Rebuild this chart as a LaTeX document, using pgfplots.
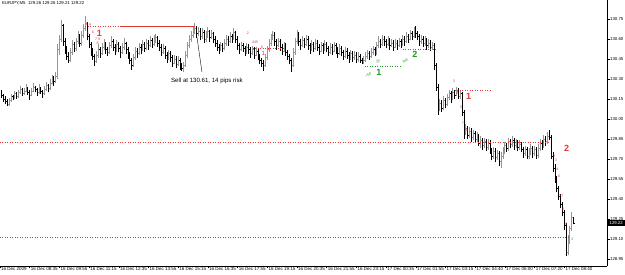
\documentclass[border=0pt]{standalone}
\usepackage{pgfplots}
\usepackage{pgfplotstable}
\pgfplotsset{compat=1.18}
\usepackage{fontspec}
\setmainfont{Liberation Sans}
\definecolor{mtred}{RGB}{225,55,55}
\definecolor{mtgreen}{RGB}{35,150,35}
\definecolor{upgray}{RGB}{150,150,150}
\newcommand\fs[1]{\fontsize{#1}{#1}\selectfont}
\pgfplotstableread{
o h l c
130.20 130.22 130.16 130.18
130.18 130.19 130.13 130.15
130.15 130.17 130.11 130.13
130.13 130.15 130.10 130.11
130.11 130.16 130.10 130.14
130.14 130.19 130.13 130.17
130.17 130.18 130.14 130.16
130.16 130.21 130.15 130.19
130.19 130.20 130.15 130.17
130.17 130.22 130.16 130.20
130.20 130.25 130.19 130.22
130.22 130.23 130.17 130.19
130.19 130.23 130.18 130.21
130.21 130.26 130.20 130.23
130.23 130.24 130.18 130.20
130.20 130.22 130.14 130.18
130.18 130.23 130.17 130.21
130.21 130.27 130.20 130.24
130.24 130.25 130.20 130.22
130.22 130.23 130.17 130.20
130.20 130.26 130.19 130.23
130.23 130.24 130.19 130.21
130.21 130.22 130.16 130.19
130.19 130.25 130.18 130.22
130.22 130.28 130.21 130.25
130.25 130.26 130.20 130.23
130.23 130.30 130.22 130.27
130.27 130.33 130.26 130.30
130.30 130.32 130.25 130.28
130.28 130.35 130.27 130.32
130.32 130.56 130.30 130.52
130.52 130.63 130.48 130.60
130.60 130.74 130.58 130.70
130.70 130.71 130.55 130.58
130.58 130.61 130.49 130.52
130.52 130.55 130.44 130.47
130.47 130.50 130.42 130.44
130.44 130.53 130.43 130.50
130.50 130.59 130.48 130.56
130.56 130.58 130.50 130.53
130.53 130.61 130.51 130.58
130.58 130.66 130.56 130.62
130.62 130.64 130.54 130.57
130.57 130.66 130.55 130.63
130.63 130.71 130.61 130.68
130.68 130.77 130.66 130.72
130.72 130.73 130.59 130.62
130.62 130.64 130.53 130.56
130.56 130.58 130.47 130.50
130.50 130.53 130.44 130.47
130.47 130.49 130.40 130.43
130.43 130.51 130.42 130.48
130.48 130.56 130.46 130.52
130.52 130.54 130.46 130.49
130.49 130.57 130.48 130.54
130.54 130.60 130.52 130.57
130.57 130.58 130.49 130.52
130.52 130.54 130.47 130.50
130.50 130.58 130.49 130.55
130.55 130.62 130.53 130.58
130.58 130.60 130.51 130.54
130.54 130.56 130.48 130.51
130.51 130.59 130.50 130.56
130.56 130.58 130.50 130.53
130.53 130.55 130.46 130.50
130.50 130.57 130.49 130.54
130.54 130.61 130.52 130.57
130.57 130.58 130.49 130.52
130.52 130.54 130.45 130.48
130.48 130.50 130.41 130.44
130.44 130.46 130.37 130.40
130.40 130.49 130.39 130.46
130.46 130.54 130.44 130.51
130.51 130.53 130.46 130.49
130.49 130.57 130.48 130.54
130.54 130.56 130.49 130.52
130.52 130.59 130.51 130.56
130.56 130.58 130.50 130.53
130.53 130.60 130.52 130.57
130.57 130.59 130.52 130.55
130.55 130.62 130.54 130.59
130.59 130.61 130.53 130.56
130.56 130.63 130.55 130.60
130.60 130.64 130.57 130.61
130.61 130.62 130.54 130.57
130.57 130.59 130.51 130.54
130.54 130.56 130.47 130.50
130.50 130.56 130.49 130.53
130.53 130.55 130.45 130.48
130.48 130.50 130.42 130.45
130.45 130.52 130.44 130.49
130.49 130.51 130.43 130.46
130.46 130.48 130.39 130.42
130.42 130.48 130.41 130.45
130.45 130.47 130.38 130.41
130.41 130.47 130.40 130.44
130.44 130.46 130.37 130.40
130.40 130.42 130.36 130.38
130.38 130.43 130.35 130.40
130.40 130.51 130.39 130.48
130.48 130.58 130.46 130.55
130.55 130.63 130.53 130.60
130.60 130.66 130.58 130.63
130.63 130.69 130.61 130.66
130.66 130.72 130.64 130.68
130.68 130.70 130.61 130.64
130.64 130.69 130.62 130.66
130.66 130.68 130.59 130.62
130.62 130.68 130.60 130.65
130.65 130.67 130.57 130.60
130.60 130.66 130.58 130.63
130.63 130.69 130.61 130.66
130.66 130.67 130.58 130.61
130.61 130.67 130.60 130.64
130.64 130.65 130.57 130.60
130.60 130.62 130.54 130.57
130.57 130.59 130.51 130.54
130.54 130.56 130.49 130.52
130.52 130.58 130.51 130.55
130.55 130.57 130.50 130.53
130.53 130.60 130.52 130.57
130.57 130.63 130.55 130.60
130.60 130.62 130.55 130.58
130.58 130.65 130.57 130.62
130.62 130.64 130.57 130.60
130.60 130.68 130.59 130.65
130.65 130.66 130.57 130.60
130.60 130.62 130.52 130.55
130.55 130.57 130.49 130.52
130.52 130.58 130.51 130.55
130.55 130.57 130.50 130.53
130.53 130.55 130.47 130.50
130.50 130.57 130.49 130.54
130.54 130.56 130.49 130.52
130.52 130.54 130.46 130.49
130.49 130.55 130.48 130.52
130.52 130.54 130.45 130.48
130.48 130.54 130.47 130.51
130.51 130.53 130.44 130.47
130.47 130.49 130.41 130.44
130.44 130.46 130.39 130.42
130.42 130.44 130.36 130.40
130.40 130.49 130.39 130.46
130.46 130.55 130.44 130.52
130.52 130.60 130.50 130.57
130.57 130.64 130.55 130.61
130.61 130.66 130.59 130.63
130.63 130.65 130.55 130.58
130.58 130.60 130.52 130.55
130.55 130.61 130.54 130.58
130.58 130.60 130.51 130.54
130.54 130.56 130.48 130.51
130.51 130.58 130.50 130.55
130.55 130.57 130.47 130.50
130.50 130.52 130.44 130.47
130.47 130.49 130.41 130.44
130.44 130.46 130.35 130.40
130.40 130.53 130.39 130.50
130.50 130.61 130.48 130.58
130.58 130.67 130.56 130.63
130.63 130.65 130.55 130.58
130.58 130.60 130.52 130.55
130.55 130.62 130.54 130.59
130.59 130.61 130.53 130.56
130.56 130.63 130.55 130.60
130.60 130.62 130.52 130.55
130.55 130.57 130.49 130.52
130.52 130.59 130.51 130.56
130.56 130.58 130.50 130.53
130.53 130.60 130.52 130.57
130.57 130.59 130.51 130.54
130.54 130.56 130.48 130.51
130.51 130.58 130.50 130.55
130.55 130.57 130.49 130.52
130.52 130.59 130.51 130.56
130.56 130.58 130.50 130.53
130.53 130.55 130.47 130.50
130.50 130.57 130.49 130.54
130.54 130.56 130.48 130.51
130.51 130.58 130.50 130.55
130.55 130.57 130.49 130.52
130.52 130.54 130.46 130.49
130.49 130.56 130.48 130.53
130.53 130.55 130.47 130.50
130.50 130.52 130.44 130.47
130.47 130.54 130.46 130.51
130.51 130.53 130.45 130.48
130.48 130.50 130.42 130.45
130.45 130.52 130.44 130.49
130.49 130.51 130.43 130.46
130.46 130.51 130.44 130.48
130.48 130.50 130.42 130.45
130.45 130.50 130.43 130.47
130.47 130.49 130.42 130.44
130.44 130.46 130.41 130.43
130.43 130.47 130.41 130.44
130.44 130.50 130.43 130.47
130.47 130.52 130.45 130.49
130.49 130.51 130.44 130.47
130.47 130.53 130.46 130.50
130.50 130.55 130.48 130.52
130.52 130.54 130.47 130.49
130.49 130.58 130.48 130.55
130.55 130.62 130.53 130.58
130.58 130.60 130.53 130.56
130.56 130.63 130.55 130.60
130.60 130.62 130.55 130.58
130.58 130.60 130.53 130.56
130.56 130.62 130.55 130.59
130.59 130.61 130.52 130.55
130.55 130.60 130.54 130.57
130.57 130.59 130.51 130.54
130.54 130.60 130.53 130.57
130.57 130.59 130.52 130.55
130.55 130.61 130.54 130.58
130.58 130.60 130.53 130.56
130.56 130.63 130.55 130.60
130.60 130.62 130.55 130.58
130.58 130.65 130.57 130.62
130.62 130.64 130.57 130.60
130.60 130.67 130.59 130.64
130.64 130.66 130.59 130.62
130.62 130.69 130.61 130.66
130.66 130.70 130.61 130.64
130.64 130.66 130.59 130.62
130.62 130.64 130.55 130.58
130.58 130.63 130.56 130.60
130.60 130.62 130.54 130.57
130.57 130.62 130.55 130.59
130.59 130.61 130.52 130.55
130.55 130.60 130.53 130.57
130.57 130.59 130.51 130.54
130.54 130.58 130.52 130.55
130.55 130.57 130.37 130.40
130.40 130.42 130.21 130.24
130.24 130.26 130.03 130.08
130.08 130.15 130.06 130.12
130.12 130.14 130.05 130.08
130.08 130.17 130.07 130.14
130.14 130.16 130.08 130.11
130.11 130.19 130.10 130.16
130.16 130.22 130.14 130.19
130.19 130.21 130.12 130.15
130.15 130.23 130.14 130.20
130.20 130.22 130.15 130.18
130.18 130.24 130.17 130.21
130.21 130.23 130.15 130.17
130.17 130.21 130.15 130.19
130.19 130.20 130.02 130.05
130.05 130.07 129.85 129.90
129.90 129.96 129.88 129.93
129.93 129.95 129.85 129.88
129.88 129.94 129.86 129.91
129.91 129.93 129.83 129.86
129.86 129.92 129.84 129.89
129.89 129.91 129.82 129.85
129.85 129.90 129.83 129.87
129.87 129.89 129.80 129.82
129.82 129.87 129.78 129.84
129.84 129.86 129.77 129.80
129.80 129.86 129.78 129.83
129.83 129.85 129.76 129.79
129.79 129.85 129.77 129.82
129.82 129.84 129.74 129.76
129.76 129.78 129.69 129.72
129.72 129.79 129.70 129.76
129.76 129.78 129.68 129.71
129.71 129.77 129.69 129.74
129.74 129.76 129.65 129.68
129.68 129.75 129.63 129.72
129.72 129.79 129.70 129.76
129.76 129.83 129.74 129.80
129.80 129.82 129.75 129.78
129.78 129.86 129.76 129.83
129.83 129.85 129.78 129.81
129.81 129.87 129.79 129.84
129.84 129.86 129.77 129.80
129.80 129.85 129.78 129.82
129.82 129.84 129.76 129.79
129.79 129.84 129.77 129.81
129.81 129.83 129.75 129.77
129.77 129.79 129.71 129.74
129.74 129.80 129.72 129.77
129.77 129.79 129.70 129.72
129.72 129.78 129.70 129.75
129.75 129.81 129.73 129.78
129.78 129.80 129.71 129.74
129.74 129.80 129.72 129.77
129.77 129.79 129.70 129.73
129.73 129.81 129.71 129.78
129.78 129.85 129.76 129.82
129.82 129.84 129.77 129.80
129.80 129.88 129.78 129.85
129.85 129.87 129.80 129.83
129.83 129.90 129.81 129.87
129.87 129.92 129.84 129.86
129.86 129.88 129.70 129.72
129.72 129.75 129.60 129.63
129.63 129.66 129.52 129.55
129.55 129.57 129.45 129.48
129.48 129.50 129.39 129.42
129.42 129.44 129.33 129.36
129.36 129.38 129.27 129.30
129.30 129.32 129.17 129.20
129.20 129.22 128.97 129.00
129.00 129.13 128.98 129.10
129.10 129.20 129.06 129.18
129.18 129.30 129.16 129.26
129.26 129.26 129.21 129.22
}\bars
\begin{document}
\begin{tikzpicture}
\path[use as bounding box] (0pt,-9pt) rectangle (625pt,266pt);
\begin{axis}[
  scale only axis, width=607pt, height=266pt,
  at={(0pt,0pt)}, anchor=south west,
  xmin=-1, xmax=326, ymin=128.8975, ymax=130.8925,
  axis x line*=bottom, axis y line*=right,
  axis line style={black, line width=0.8pt, -},
  clip=false,
  tick align=outside, major tick length=2.5pt,
  tick style={black, line width=0.5pt},
  xtick={-1,15,31,47,63,79,95,111,127,143,159,175,191,207,223,239,255,271,287,303},
  xticklabels={16 Dec 2009, 16 Dec 08:35, 16 Dec 09:55, 16 Dec 11:15, 16 Dec 12:35, 16 Dec 13:55, 16 Dec 15:15, 16 Dec 16:35, 16 Dec 17:55, 16 Dec 19:15, 16 Dec 20:35, 16 Dec 21:55, 16 Dec 23:15, 17 Dec 00:35, 17 Dec 01:55, 17 Dec 03:15, 17 Dec 04:40, 17 Dec 06:00, 17 Dec 07:20, 17 Dec 08:40},
  xticklabel style={anchor=north west, font=\fs{4.5}, inner sep=0.5pt, yshift=2pt, xshift=0.5pt},
  ytick={128.95,129.10,129.25,129.40,129.55,129.70,129.85,130.00,130.15,130.30,130.45,130.60,130.75},
  yticklabel style={anchor=west, font=\fs{4.3}, inner sep=0.5pt, /pgf/number format/.cd, fixed, fixed zerofill, precision=2, assume math mode=true},
]
% high-low bars
\addplot[black, line width=0.9pt, quiver={u=0, v=\thisrow{h}-\thisrow{l}},
  x filter/.expression={\thisrow{c}<\thisrow{o} ? x : nan}] table[x expr=\coordindex, y=l] {\bars};
\addplot[upgray, line width=0.9pt, quiver={u=0, v=\thisrow{h}-\thisrow{l}},
  x filter/.expression={\thisrow{c}<\thisrow{o} ? nan : x}] table[x expr=\coordindex, y=l] {\bars};
% open and close ticks
\addplot[black, line width=0.6pt, quiver={u=-0.6, v=0},
  x filter/.expression={\thisrow{c}<\thisrow{o} ? x : nan}] table[x expr=\coordindex, y=o] {\bars};
\addplot[black, line width=0.6pt, quiver={u=0.6, v=0},
  x filter/.expression={\thisrow{c}<\thisrow{o} ? x : nan}] table[x expr=\coordindex, y=c] {\bars};
\addplot[upgray, line width=0.6pt, quiver={u=-0.6, v=0},
  x filter/.expression={\thisrow{c}<\thisrow{o} ? nan : x}] table[x expr=\coordindex, y=o] {\bars};
\addplot[upgray, line width=0.6pt, quiver={u=0.6, v=0},
  x filter/.expression={\thisrow{c}<\thisrow{o} ? nan : x}] table[x expr=\coordindex, y=c] {\bars};

% horizontal levels
\draw[mtred, dash pattern=on 1pt off 1.5pt, line width=0.6pt] (axis cs:-1,129.822) -- (axis cs:294,129.822);
\draw[mtgreen, dash pattern=on 1pt off 1.5pt, line width=0.6pt] (axis cs:-1,129.115) -- (axis cs:306,129.115);
\draw[mtred, dash pattern=on 1pt off 1.5pt, line width=0.6pt] (axis cs:44.8,130.692) -- (axis cs:63.6,130.692);
\draw[mtred, line width=0.5pt] (axis cs:63.6,130.692) -- (axis cs:104,130.692);
\draw[mtred, dash pattern=on 1pt off 1.5pt, line width=0.5pt] (axis cs:135.2,130.5325) -- (axis cs:151.4,130.5325);
\draw[mtgreen, dash pattern=on 1pt off 1.5pt, line width=0.6pt] (axis cs:195.6,130.3975) -- (axis cs:215.5,130.3975);
\draw[mtgreen, dash pattern=on 1pt off 1.5pt, line width=0.6pt] (axis cs:216,130.525) -- (axis cs:234.3,130.525);
\draw[mtred, dash pattern=on 1pt off 1.5pt, line width=0.6pt] (axis cs:244,130.2175) -- (axis cs:262.9,130.2175);

% red labels, first wave
\node[mtred, font=\fs{3.6}, inner sep=0pt] at (axis cs:46.8,130.712) {2 a};
\node[mtred, font=\fs{3.6}, inner sep=0pt] at (axis cs:46.4,130.645) {5};
\node[mtred, font=\fs{3.6}, inner sep=0pt] at (axis cs:49.1,130.652) {6};
\node[mtred, font=\bfseries\fs{9}, inner sep=0pt] at (axis cs:52.6,130.645) {1};
\node[mtred, font=\fs{3.6}, inner sep=0pt] at (axis cs:51.6,130.60) {7 9};
\node[mtred, font=\fs{3.6}, inner sep=0pt] at (axis cs:51.6,130.57) {8};
\node[mtred, font=\fs{3.6}, inner sep=0pt] at (axis cs:132.5,130.645) {2};
\node[mtred, font=\fs{3.6}, inner sep=0pt] at (axis cs:136.5,130.578) {345};
\node[mtred, font=\fs{3.6}, inner sep=0pt] at (axis cs:140.1,130.54) {6};
\node[mtred, font=\fs{6}, inner sep=0pt] at (axis cs:140.8,130.49) {1};

% sell note
\draw[black, line width=0.4pt] (axis cs:105.1,130.615) -- (axis cs:107.8,130.3525);
\node[anchor=west, font=\fs{6.1}, inner sep=0pt] at (axis cs:91.1,130.285) {Sell at 130.61, 14 pips risk};

% green labels
\node[mtgreen, font=\bfseries\fs{9}, inner sep=0pt] at (axis cs:203.1,130.352) {1};
\node[mtgreen, font=\fs{3.6}, inner sep=0pt, rotate=30] at (axis cs:197.4,130.33) {=50};
\node[mtgreen, font=\fs{3.6}, inner sep=0pt, rotate=30] at (axis cs:202.6,130.43) {20};
\node[mtgreen, font=\bfseries\fs{9}, inner sep=0pt] at (axis cs:222.5,130.488) {2};
\node[mtgreen, font=\fs{3.6}, inner sep=0pt, rotate=30] at (axis cs:217.3,130.435) {3a5};

% red labels, second wave
\node[mtred, font=\fs{3.6}, inner sep=0pt] at (axis cs:243.5,130.285) {3};
\node[mtred, font=\fs{3.6}, inner sep=0pt] at (axis cs:245.3,130.195) {4};
\node[mtred, font=\bfseries\fs{9}, inner sep=0pt] at (axis cs:251.5,130.168) {1};
\node[mtred, font=\fs{3.6}, inner sep=0pt] at (axis cs:247.4,130.09) {5};
\node[mtred, font=\fs{3.6}, inner sep=0pt] at (axis cs:248.4,129.97) {7};
\node[mtred, font=\fs{3.6}, inner sep=0pt] at (axis cs:250.5,129.918) {8};

% red labels, third wave
\node[mtred, font=\bfseries\fs{9}, inner sep=0pt] at (axis cs:304.2,129.78) {2};
\node[mtred, font=\fs{3.6}, inner sep=0pt] at (axis cs:297.6,129.72) {2};
\node[mtred, font=\fs{3.6}, inner sep=0pt] at (axis cs:298.4,129.69) {3};
\node[mtred, font=\fs{3.6}, inner sep=0pt] at (axis cs:299.2,129.625) {4};
\node[mtred, font=\fs{3.6}, inner sep=0pt] at (axis cs:300.2,129.57) {6};
\node[mtred, font=\fs{3.6}, inner sep=0pt] at (axis cs:301.3,129.42) {27};
\node[mtred, font=\fs{3.6}, inner sep=0pt] at (axis cs:302.4,129.32) {8};
\node[mtred, font=\fs{3.6}, inner sep=0pt] at (axis cs:304,129.21) {9};
\node[mtgreen, font=\fs{3.6}, inner sep=0pt] at (axis cs:307.3,129.10) {2};

% header and current price
\node[anchor=north west, font=\fs{4.3}, inner sep=0pt] at (axis cs:0,130.88) {EURJPY,M5\ \ 129.26 129.26 129.21 129.22};
\node[anchor=west, fill=black, text=white, font=\fs{4.3}, inner xsep=1pt, inner ysep=1pt, minimum width=18pt] at (axis cs:326,129.22) {129.22};
\end{axis}
\end{tikzpicture}
\end{document}
